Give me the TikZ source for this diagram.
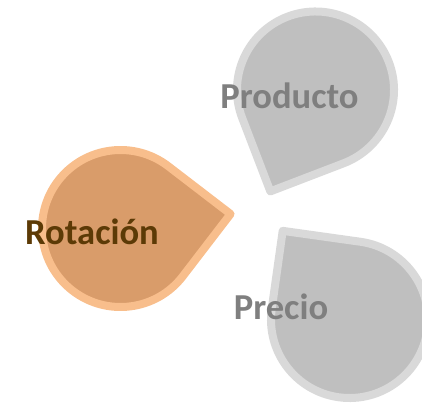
\documentclass[tikz,border=0pt]{standalone}
\usepackage{fontspec}
\setmainfont{Carlito}
\usepackage{tikz}
\usetikzlibrary{calc,positioning}
\definecolor{RotFill}{HTML}{D99C6A}
\definecolor{RotLine}{HTML}{F8BE8C}
\definecolor{RotText}{HTML}{5C3A06}
\definecolor{GrisFill}{HTML}{BFBFBF}
\definecolor{GrisLine}{HTML}{D9D9D9}
\definecolor{GrisText}{HTML}{7F7F7F}

\begin{document}
\begin{tikzpicture}[x=0.025cm, y=0.025cm,
    gota/.style={line width=0.2cm, line join=round},
    etiqueta/.style={anchor=base, inner sep=0pt, font=\fontsize{26}{30}\selectfont\bfseries}]
        \useasboundingbox (0,0) rectangle (422,403);

        % gotas
        \draw[gota, fill=RotFill, draw=RotLine, shift={(120.5,174.5)}, rotate=7.5]
            (111,0) -- (45:78.5) arc[start angle=45, end angle=315, radius=78.5] -- cycle;
        \draw[gota, fill=GrisFill, draw=GrisLine, shift={(315.5,313)}, rotate=246]
            (111,0) -- (45:78.5) arc[start angle=45, end angle=315, radius=78.5] -- cycle;
        \draw[gota, fill=GrisFill, draw=GrisLine, shift={(349.5,83.5)}, rotate=127]
            (111,0) -- (45:78.5) arc[start angle=45, end angle=315, radius=78.5] -- cycle;

        % textos
        \node[etiqueta, text=RotText] (rotacion) at (92,159) {Rotación};
        \node[etiqueta, text=GrisText] (producto) at (289.5,294) {Producto};
        \node[etiqueta, text=GrisText] (precio) at (281,84) {Precio};
    \end{tikzpicture}
\end{document}
